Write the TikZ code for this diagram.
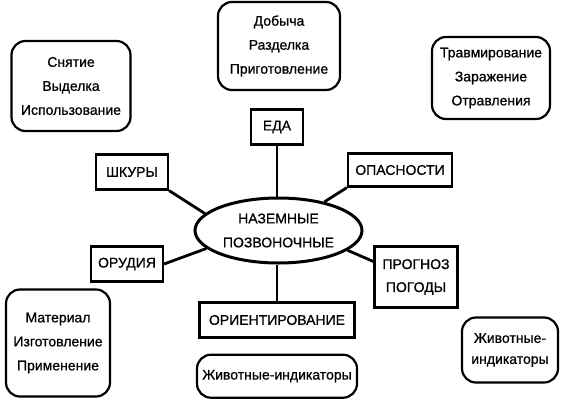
\documentclass[tikz,border=0pt]{standalone}
\usepackage{fontspec}
\setmainfont{Liberation Sans}[FakeBold=0.8]
\usepackage{xcolor}
\usepackage{tikz}
\usetikzlibrary{positioning,shapes.geometric}
\definecolor{vzInk}{HTML}{000000}
\definecolor{vzPaper}{HTML}{FFFFFF}
\tikzset{
  catbox/.style={rectangle,draw=vzInk,line width=2.2pt,fill=vzPaper,
    inner sep=0pt,align=center,
    font=\fontsize{14}{23}\selectfont,text=vzInk},
  infobox/.style={rectangle,rounded corners=14pt,draw=vzInk,line width=2.2pt,
    fill=vzPaper,inner sep=0pt,align=center,
    font=\fontsize{14}{24}\selectfont,text=vzInk},
  hubnode/.style={ellipse,draw=vzInk,line width=3pt,fill=vzPaper,
    inner sep=0pt,minimum width=167pt,minimum height=65pt,align=center,
    font=\fontsize{14}{24}\selectfont,text=vzInk},
  spoke/.style={-,line width=2.8pt,color=vzInk},
}
\begin{document}
\begin{tikzpicture}[x=1pt,y=-1pt]

  \useasboundingbox[fill=vzPaper] (0,0) rectangle (565,405);

  % centre
  \node[hubnode] (hub) at (278.5,230.5) {НАЗЕМНЫЕ\\ПОЗВОНОЧНЫЕ};

  % categories
  \node[catbox,minimum width=52pt,minimum height=35pt] (food) at (277,127) {ЕДА};
  \node[catbox,minimum width=104pt,minimum height=33pt] (danger) at (400,170) {ОПАСНОСТИ};
  \node[catbox,minimum width=72pt,minimum height=35pt] (skins) at (132,172) {ШКУРЫ};
  \node[catbox,minimum width=72pt,minimum height=35pt] (tools) at (127,264) {ОРУДИЯ};
  \node[catbox,minimum width=83pt,minimum height=61pt] (weather) at (416,277) {ПРОГНОЗ\\ПОГОДЫ};
  \node[catbox,minimum width=155pt,minimum height=35pt] (orient) at (277,320) {ОРИЕНТИРОВАНИЕ};

  % details
  \node[infobox,minimum width=122pt,minimum height=88pt] (foodinfo) at (279,46)
    {Добыча\\Разделка\\Приготовление};
  \node[infobox,minimum width=118pt,minimum height=82pt] (dangerinfo) at (491,78)
    {Травмирование\\Заражение\\Отравления};
  \node[infobox,minimum width=119pt,minimum height=90pt] (skinsinfo) at (71,86)
    {Снятие\\Выделка\\Использование};
  \node[infobox,minimum width=104pt,minimum height=107pt] (toolsinfo) at (58,343)
    {Материал\\Изготовление\\Применение};
  \node[infobox,minimum width=96pt,minimum height=65pt,
    font=\fontsize{14}{21}\selectfont] (weatherinfo) at (510,350)
    {Животные-\\индикаторы};
  \node[infobox,minimum width=160pt,minimum height=43pt,below=15pt of orient] (orientinfo)
    {Животные-индикаторы};

  \foreach \from/\to in {food.south/food.south |- hub.north,
                         orient.north/orient.north |- hub.south,
                         skins.south east/hub.167,
                         danger.south west/hub.32,
                         tools.east/hub.194,
                         weather.160/hub.344}
    \draw[spoke] (\from) -- (\to);

\end{tikzpicture}
\end{document}
